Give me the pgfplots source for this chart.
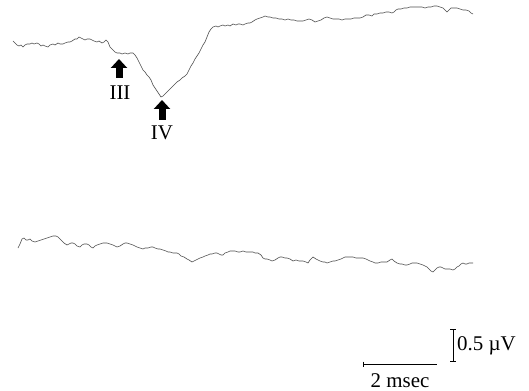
\documentclass[border=0pt]{standalone}
\usepackage{fontspec}
\setmainfont{Liberation Serif}
\usepackage{pgfplots}
\pgfplotsset{compat=1.18}
\usetikzlibrary{arrows.meta}
\pgfplotstableread{
x y
13 41
15 43
17 45
19 46
21 45
23 47
25 45
27 44
30 44
32 43
34 44
37 43
39 44
41 46
43 45
45 46
48 47
50 45
53 44
55 45
58 43
60 44
63 44
65 43
68 42
70 42
72 41
75 39
77 39
79 37
81 38
83 39
85 40
87 39
90 39
92 40
94 41
97 42
99 41
102 43
104 42
106 40
108 42
110 47
112 49
115 52
117 53
120 53
122 54
125 53
128 54
130 53
133 53
135 55
137 58
139 62
141 66
143 70
145 72
147 75
149 77
151 80
153 85
155 88
157 91
159 94
161 97
163 96
165 94
167 92
169 90
171 88
173 86
175 84
177 82
180 80
182 78
185 76
187 74
189 70
191 66
193 63
195 59
197 56
199 53
201 49
203 45
205 42
207 37
209 32
211 29
213 27
216 26
218 27
220 26
223 25
225 26
228 25
230 26
233 24
236 25
238 24
240 24
243 25
245 24
248 23
250 23
252 22
255 20
257 19
260 18
263 17
265 16
268 17
270 17
273 18
276 18
279 19
282 19
285 20
288 19
291 20
294 20
297 21
300 21
303 21
306 20
309 19
312 20
315 22
318 21
321 20
324 18
327 17
330 18
333 19
336 19
339 19
342 20
345 19
348 19
351 19
354 18
357 18
360 18
363 17
366 15
369 15
372 16
374 14
377 14
380 13
383 13
386 12
389 12
392 13
394 12
396 10
398 9
401 9
404 8
407 8
410 7
413 7
416 7
419 7
422 7
425 8
428 7
431 7
434 6
437 6
440 7
443 8
445 10
447 12
449 10
451 8
454 8
457 8
460 9
463 10
466 10
469 11
471 13
473 14
}\toptrace
\pgfplotstableread{
x y
18 248
20 244
22 239
24 238
26 240
28 240
30 239
32 241
35 242
38 241
41 240
44 239
47 238
50 237
53 236
56 236
58 237
60 239
62 241
64 243
67 245
69 244
71 243
73 243
75 244
77 246
80 247
82 245
84 244
87 244
89 245
91 247
93 248
95 246
97 245
100 244
103 243
105 243
107 243
110 244
113 245
115 246
117 247
120 246
123 244
125 243
127 243
130 244
133 245
135 246
137 247
140 248
143 249
145 248
148 248
151 247
153 247
155 248
158 249
160 249
163 250
166 251
168 252
170 252
173 253
175 253
177 253
179 254
181 256
184 257
187 259
189 260
192 262
194 261
196 260
198 259
200 258
203 257
205 256
208 255
210 254
212 254
215 253
217 253
219 254
221 255
223 255
225 253
228 252
230 251
233 251
235 251
238 252
240 252
243 251
246 252
248 252
250 252
253 252
255 253
258 253
261 255
263 258
265 259
267 259
270 260
272 261
275 260
278 258
280 257
282 257
285 258
287 258
290 259
293 261
296 260
299 261
301 261
303 261
306 262
308 263
310 260
313 257
316 259
318 260
320 261
323 262
325 262
327 263
330 262
333 261
335 261
338 260
341 259
343 258
345 257
348 257
350 257
353 257
356 258
358 258
361 258
363 258
366 259
368 260
370 261
373 262
375 263
378 263
381 262
384 262
387 262
390 260
392 259
394 261
397 263
400 264
402 264
405 265
407 265
410 264
412 263
415 263
417 263
420 264
423 265
425 266
427 267
429 269
431 271
433 272
435 270
437 268
439 267
441 267
443 268
445 269
447 269
450 269
453 270
455 269
457 267
459 266
461 264
463 263
465 264
467 264
469 263
471 263
473 263
}\bottomtrace
\begin{document}
\begin{tikzpicture}
\useasboundingbox (0,0) rectangle (529bp,391bp);
\begin{axis}[
  at={(0,0)}, anchor=south west,
  hide axis, scale only axis,
  width=529bp, height=391bp,
  xmin=0, xmax=529, ymin=0, ymax=391,
  y dir=reverse, clip=false,
]
\addplot[black!70, line width=0.6bp] table[x=x,y=y] {\toptrace};
\addplot[black!70, line width=0.6bp] table[x=x,y=y] {\bottomtrace};
% arrows
\addplot[black, line width=7bp, -{Triangle[length=9bp,width=16bp]}] coordinates {(119,78) (119,59)};
\addplot[black, line width=7bp, -{Triangle[length=9bp,width=16bp]}] coordinates {(162,120) (162,100)};
\node[font=\fontsize{21}{24}\selectfont, inner sep=0pt] at (axis cs:120,93) {III};
\node[font=\fontsize{21}{24}\selectfont, inner sep=0pt] at (axis cs:162,133) {IV};
% scale bars
\addplot[black, line width=0.8bp] coordinates {(453,329) (453,361)};
\addplot[black, line width=0.8bp] coordinates {(450,329) (456,329)};
\addplot[black, line width=0.8bp] coordinates {(450,361) (456,361)};
\addplot[black, line width=0.8bp] coordinates {(363,364) (437,364)};
\addplot[black, line width=0.8bp] coordinates {(363,361.5) (363,366.5)};
\node[font=\fontsize{21}{24}\selectfont, inner sep=0pt, anchor=west] at (axis cs:457,346) {0.5 µV};
\node[font=\fontsize{21}{24}\selectfont, inner sep=0pt] at (axis cs:400,381) {2 msec};
\end{axis}
\end{tikzpicture}
\end{document}
